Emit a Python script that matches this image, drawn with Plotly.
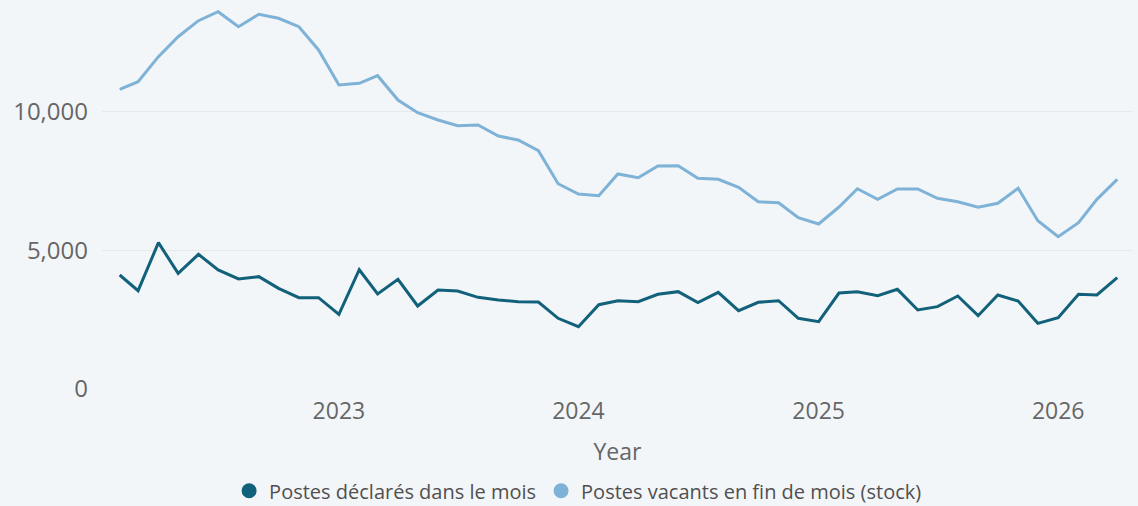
import plotly.graph_objects as go
import pandas as pd

months = pd.date_range("2022-02-01", "2026-04-01", freq="MS")

declared = [4110, 3545, 5275, 4170, 4855, 4290, 3966, 4050, 3629, 3293, 3293, 2692,
            4300, 3425, 3954, 2992, 3569, 3533, 3305, 3208, 3148, 3136, 2548, 2247,
            3040, 3184, 3148, 3413, 3509, 3112, 3485, 2824, 3124, 3184, 2548, 2427,
            3460, 3509, 3365, 3593, 2848, 2968, 3353, 2644, 3389, 3172, 2367, 2572,
            3413, 3389, 4013]

vacant = [10804, 11079, 11980, 12700, 13278, 13602, 13061, 13508, 13364, 13061, 12221, 10959,
          11020, 11295, 10418, 9961, 9697, 9493, 9517, 9121, 8976, 8591, 7400, 7030,
          6969, 7751, 7618, 8039, 8051, 7595, 7559, 7271, 6752, 6716, 6175, 5948,
          6560, 7220, 6838, 7210, 7210, 6874, 6752, 6550, 6694, 7235, 6067, 5490,
          5995, 6838, 7559]

names = ["Postes déclarés dans le mois", "Postes vacants en fin de mois (stock)"]
colors = ["#12617b", "#7eb2d6"]
series = [declared, vacant]

fig = go.Figure()
for name, vals, col in zip(names, series, colors):
    fig.add_trace(go.Scatter(x=months, y=vals, mode="lines", name=name,
                             line=dict(color=col, width=3), showlegend=False,
                             legendgroup=name))
    fig.add_trace(go.Scatter(x=[None], y=[None], mode="markers", name=name,
                             marker=dict(color=col, size=15, symbol="circle"),
                             legendgroup=name, showlegend=True))

bg = "#f3f6f9"
fig.update_layout(
    width=1138, height=506,
    paper_bgcolor=bg, plot_bgcolor=bg,
    margin=dict(l=102, r=5, t=0, b=117, autoexpand=False),
    font=dict(family="Open Sans", color="#666666", size=20),
    legend=dict(orientation="h", x=0.508, xref="container", xanchor="center",
                y=0.03, yref="container", yanchor="middle",
                font=dict(size=20, color="#505050"), itemwidth=30,
                tracegroupgap=0, itemsizing="trace", bgcolor="rgba(0,0,0,0)"),
    xaxis=dict(type="date", range=["2022-01-05", "2026-04-25"],
               tick0="2023-01-01", dtick="M12", tickformat="%Y",
               showgrid=False, zeroline=False, showline=False, automargin=False,
               tickfont=dict(size=23, color="#666666"), ticklabelstandoff=6,
               title=dict(text="Year", font=dict(size=23, color="#666666"), standoff=18)),
    yaxis=dict(range=[0, 14023], tickvals=[0, 5000, 10000], tickformat=",",
               showgrid=True, gridcolor="#e6e8ea", gridwidth=1, automargin=False,
               zeroline=False, showline=False,
               tickfont=dict(size=24, color="#666666"), ticklabelstandoff=13),
)

fig.write_html("out.html", config={"displayModeBar": False},
               post_script="document.body.style.margin='0px';"
                           "document.body.style.background='%s';" % bg)
